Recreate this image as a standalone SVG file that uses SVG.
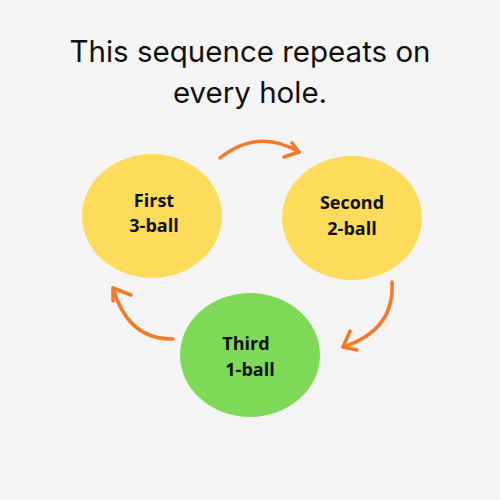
<svg xmlns="http://www.w3.org/2000/svg" width="500" height="500" viewBox="0 0 500 500">
<style>
.title{font-family:"Inter","Open Sans",sans-serif;font-size:29.5px;fill:#111;text-anchor:middle}
.lbl{font-family:"Open Sans","Noto Sans",sans-serif;font-size:18px;font-weight:700;fill:#111;text-anchor:middle}
.arr{fill:none;stroke:#f47a2b;stroke-width:3.5;stroke-linecap:round;stroke-linejoin:round}
</style>
<rect width="500" height="500" fill="#f4f4f4"/>
<text class="title" x="250" y="62">This sequence repeats on</text>
<text class="title" x="250" y="103">every hole.</text>
<g id="first">
<ellipse cx="152" cy="216" rx="70" ry="62" fill="#fedc5b"/>
<text class="lbl" x="154" y="207">First</text>
<text class="lbl" x="154" y="232">3-ball</text>
</g>
<g id="second">
<ellipse cx="352" cy="218" rx="70" ry="62" fill="#fedc5b"/>
<text class="lbl" x="352" y="209">Second</text>
<text class="lbl" x="352" y="235">2-ball</text>
</g>
<g id="third">
<ellipse cx="250" cy="355" rx="70" ry="62" fill="#7ed957"/>
<text class="lbl" x="246" y="350">Third</text>
<text class="lbl" x="250" y="376">1-ball</text>
</g>
<g id="connectors">
<path class="arr" d="M220 158 Q258 128 299 152"/>
<path class="arr" d="M292 143 L299 152 L284 157"/>
<path class="arr" d="M392 282 Q395 330 343 347"/>
<path class="arr" d="M350 331 L343 347 L357 350"/>
<path class="arr" d="M173 339 Q128 340 113 288"/>
<path class="arr" d="M113 301 L113 288 L131 295"/>
</g>
</svg>
